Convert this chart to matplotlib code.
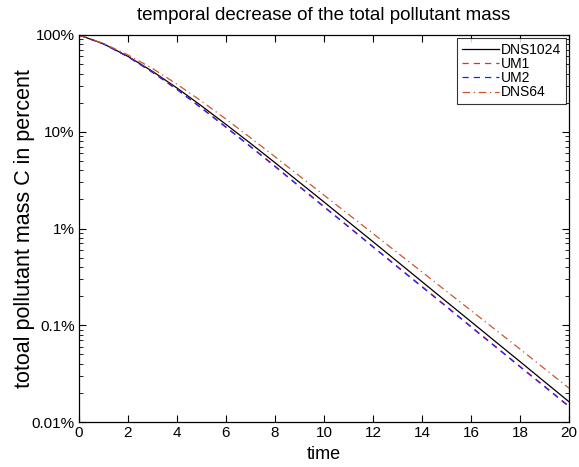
import matplotlib
matplotlib.use("Agg")
import matplotlib.pyplot as plt
from matplotlib.ticker import FixedLocator, FixedFormatter, LogLocator, NullFormatter

plt.rcParams['font.family'] = ['Liberation Sans', 'DejaVu Sans']

# time axis
time = [0, 1, 2, 3, 4, 5, 6, 7, 8, 9, 10, 11, 12, 13, 14, 15, 16, 17, 18, 19, 20]

# total pollutant mass in percent
dns1024 = [100, 81.0, 60.1, 42.1, 28.3, 18.5, 11.9, 7.59, 4.79, 3.00, 1.88,
           1.17, 0.730, 0.454, 0.282, 0.175, 0.109, 0.0677, 0.0421, 0.0261, 0.0162]
um1 = [100, 81.0, 59.7, 41.4, 27.5, 17.7, 11.2, 7.08, 4.42, 2.73, 1.69,
       1.05, 0.651, 0.404, 0.252, 0.157, 0.0972, 0.0605, 0.0376, 0.0235, 0.0146]
um2 = [100, 80.9, 59.4, 41.1, 27.3, 17.5, 11.1, 7.00, 4.37, 2.70, 1.67,
       1.04, 0.644, 0.400, 0.249, 0.155, 0.0960, 0.0598, 0.0372, 0.0232, 0.0144]
dns64 = [100, 81.8, 62.2, 45.1, 31.0, 20.7, 13.5, 8.67, 5.52, 3.49, 2.21,
         1.40, 0.887, 0.561, 0.356, 0.224, 0.142, 0.0897, 0.0568, 0.0356, 0.0224]

ytick_vals = [0.01, 0.1, 1, 10, 100]
ytick_labels = ['0.01%', '0.1%', '1%', '10%', '100%']
xtick_vals = [0, 2, 4, 6, 8, 10, 12, 14, 16, 18, 20]

fig = plt.figure(figsize=(5.79, 4.67), dpi=100)
ax = fig.add_axes([79/579, 1 - 422/467, (569 - 79)/579, (422 - 35)/467])

ax.semilogy(time, dns1024, color='k', ls='-', lw=0.9, label='DNS1024')
ax.semilogy(time, um1, color='#ff2020', ls=(0, (5, 4)), lw=0.9, label='UM1')
ax.semilogy(time, um2, color='#2020ff', ls=(0, (5, 4)), lw=0.9, label='UM2')
ax.semilogy(time, dns64, color='#c8582a', ls=(0, (6, 3, 1, 3)), lw=0.9, label='DNS64')

ax.set_xlim(0, 20)
ax.set_ylim(0.01, 100)
ax.xaxis.set_major_locator(FixedLocator(xtick_vals))
ax.yaxis.set_major_locator(FixedLocator(ytick_vals))
ax.yaxis.set_major_formatter(FixedFormatter(ytick_labels))
ax.yaxis.set_minor_locator(LogLocator(base=10, subs=range(2, 10)))
ax.yaxis.set_minor_formatter(NullFormatter())

ax.tick_params(which='both', direction='in', top=True, right=True, labelsize=11)
ax.tick_params(which='major', length=5, width=0.8, pad=3)
ax.tick_params(which='minor', length=3, width=0.6)
for s in ax.spines.values():
    s.set_linewidth(0.9)

ax.set_title('temporal decrease of the total pollutant mass', fontsize=13.5, pad=11)
ax.set_xlabel('time', fontsize=13)
ax.set_ylabel('totoal pollutant mass C in percent', fontsize=15.5)
ax.xaxis.set_label_coords(0.5, -0.062)
ax.yaxis.set_label_coords(-0.09, 0.5)

leg = ax.legend(loc='upper right', fontsize=10, frameon=True, fancybox=False,
                borderaxespad=0.25, handlelength=2.7, handletextpad=0.15,
                labelspacing=0.02, borderpad=0.3)
leg.get_frame().set_edgecolor('k')
leg.get_frame().set_linewidth(0.8)

fig.savefig('out.png', dpi=100)
